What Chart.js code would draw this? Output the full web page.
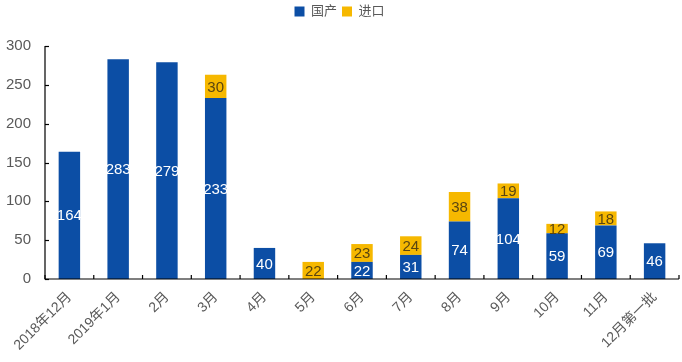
<!DOCTYPE html>
<html><head><meta charset="utf-8">
<script src="https://cdn.jsdelivr.net/npm/chart.js@4/dist/chart.umd.min.js"></script>
<style>html,body{margin:0;padding:0;background:#fff}#wrap{width:682px;height:362px;position:relative}</style>
</head><body><div id="wrap"><canvas id="c" width="682" height="362"></canvas></div>
<script>
const categories = ["2018年12月","2019年1月","2月","3月","4月","5月","6月","7月","8月","9月","10月","11月","12月第一批"];
const domestic = [164,283,279,233,40,0,22,31,74,104,59,69,46];
const imported = [0,0,0,30,0,22,23,24,38,19,12,18,0];
const seriesNames = ["国产","进口"];
const yTicks = [0,50,100,150,200,250,300];

const FONT = "'Liberation Sans', Arial, 'Noto Sans CJK SC', sans-serif";
const BLUE = "#0C4EA5", YELLOW = "#F6B800";

const legendMargin = {
  id: 'legendMargin',
  beforeInit(chart) {
    const fit = chart.legend.fit;
    chart.legend.fit = function () { fit.bind(chart.legend)(); this.height += 18; };
  }
};

const axisPlugin = {
  id: 'axisPlugin',
  afterDatasetsDraw(chart) {
    const ctx = chart.ctx, x = chart.scales.x, y = chart.scales.y;
    const ca = chart.chartArea;
    ctx.save();
    ctx.strokeStyle = '#000'; ctx.lineWidth = 1.2;
    ctx.beginPath();
    ctx.moveTo(ca.left, y.getPixelForValue(300)); ctx.lineTo(ca.left, y.getPixelForValue(0));
    ctx.lineTo(ca.right, y.getPixelForValue(0));
    ctx.stroke();
    yTicks.forEach(v => { const py = Math.round(y.getPixelForValue(v)) + 0.5; ctx.beginPath(); ctx.moveTo(ca.left, py); ctx.lineTo(ca.left + 4, py); ctx.stroke(); });
    const n = categories.length;
    const step = x.getPixelForValue(1) - x.getPixelForValue(0);
    for (let i = 0; i <= n; i++) {
      const px = i === n ? ca.right : (x.getPixelForValue(i) - step / 2);
      const py = y.getPixelForValue(0);
      ctx.beginPath(); ctx.moveTo(px, py); ctx.lineTo(px, py - 4); ctx.stroke();
    }
    ctx.font = "15px " + FONT;
    ctx.textAlign = 'center'; ctx.textBaseline = 'middle';
    chart.data.datasets.forEach((ds, di) => {
      const meta = chart.getDatasetMeta(di);
      meta.data.forEach((bar, i) => {
        const v = ds.data[i];
        if (!v) return;
        const cy = (bar.y + bar.base) / 2;
        ctx.fillStyle = di === 0 ? '#ffffff' : '#5a4510';
        ctx.fillText(String(v), bar.x, cy + 1);
      });
    });
    ctx.restore();
  }
};

new Chart(document.getElementById('c'), {
  type: 'bar',
  data: {
    labels: categories,
    datasets: [
      { label: seriesNames[0], data: domestic, backgroundColor: BLUE, barPercentage: 0.44, categoryPercentage: 1 },
      { label: seriesNames[1], data: imported, backgroundColor: YELLOW, barPercentage: 0.44, categoryPercentage: 1 }
    ]
  },
  options: {
    responsive: false, animation: false,
    layout: { padding: { left: 0, right: 3, top: 0, bottom: 0 } },
    plugins: {
      legend: {
        display: true, position: 'top',
        labels: { boxWidth: 10, boxHeight: 10, padding: 5, color: '#595959', font: { family: FONT, size: 13 } }
      },
      tooltip: { enabled: false }
    },
    scales: {
      x: {
        stacked: true,
        grid: { display: false },
        border: { display: false },
        ticks: { color: '#595959', font: { family: FONT, size: 14 }, maxRotation: 45, minRotation: 45, padding: 2 },
        afterFit(s) { s.height = 83; }
      },
      y: {
        stacked: true, min: 0, max: 300,
        grid: { display: false },
        border: { display: false },
        ticks: { stepSize: 50, color: '#595959', font: { family: FONT, size: 15 }, padding: 6 },
        afterFit(s) { s.width = 45; }
      }
    }
  },
  plugins: [legendMargin, axisPlugin]
});
</script></body></html>
